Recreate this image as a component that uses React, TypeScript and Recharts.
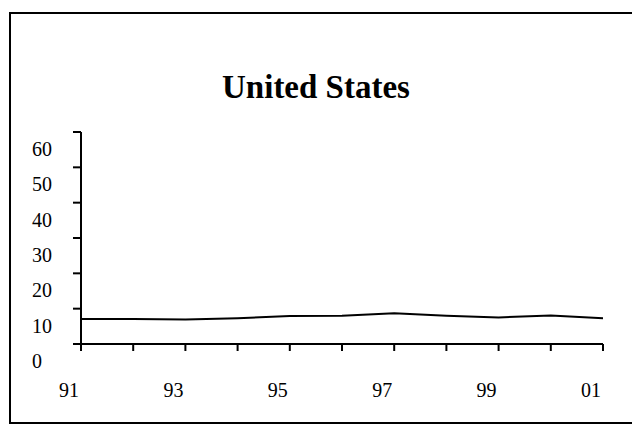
import React from 'react';
import { LineChart, Line, XAxis, YAxis } from 'recharts';

const years = ['91', '92', '93', '94', '95', '96', '97', '98', '99', '00', '01'];
const values = [7.1, 7.1, 6.9, 7.3, 7.9, 8.0, 8.7, 8.0, 7.5, 8.1, 7.3];
const yTicks = [0, 10, 20, 30, 40, 50, 60];
const title = 'United States';

const data = years.map((y, i) => ({ year: y, value: values[i] }));

const FONT = '"Liberation Serif", "Times New Roman", serif';

const XTick = (props: any) => {
  const { x, y, payload, index } = props;
  if (index % 2 !== 0) return null;
  return (
    <text x={x - 12} y={y + 37} textAnchor="middle" dominantBaseline="central" fontSize={20} fontFamily={FONT} fill="#000">
      {payload.value}
    </text>
  );
};

const YTick = (props: any) => {
  const { x, y, payload } = props;
  return (
    <text x={x - 39} y={y + 17} textAnchor="start" dominantBaseline="central" fontSize={20} fontFamily={FONT} fill="#000">
      {payload.value}
    </text>
  );
};

export default function App() {
  return (
    <div style={{ position: 'absolute', left: 0, top: 0, width: 632, height: 437, overflow: 'hidden', background: '#fff' }}>
      <div style={{ position: 'absolute', left: 9, top: 12, width: 623, height: 2, background: '#000' }} />
      <div style={{ position: 'absolute', left: 9, top: 12, width: 2, height: 412, background: '#000' }} />
      <div style={{ position: 'absolute', left: 9, top: 422, width: 623, height: 2, background: '#000' }} />
      <div style={{ position: 'absolute', left: 0, top: 67, width: 632, textAlign: 'center', fontFamily: FONT, fontWeight: 'bold', fontSize: 33, lineHeight: '40px', color: '#000' }}>
        {title}
      </div>
      <div style={{ position: 'absolute', left: 0, top: 0 }}>
        <LineChart width={632} height={437} data={data} margin={{ top: 132, right: 29, left: 31, bottom: 53 }}>
          <XAxis
            dataKey="year"
            interval={0}
            axisLine={{ stroke: '#000', strokeWidth: 2 }}
            tickLine={{ stroke: '#000', strokeWidth: 2 }}
            tickSize={7}
            tickMargin={2}
            height={40}
            tick={<XTick />}
          />
          <YAxis
            domain={[0, 60]}
            ticks={yTicks}
            interval={0}
            width={50}
            axisLine={{ stroke: '#000', strokeWidth: 2 }}
            tickLine={{ stroke: '#000', strokeWidth: 2 }}
            tickSize={8}
            tickMargin={2}
            tick={<YTick />}
          />
          <Line type="linear" dataKey="value" stroke="#000" strokeWidth={2} dot={false} isAnimationActive={false} />
        </LineChart>
      </div>
    </div>
  );
}
